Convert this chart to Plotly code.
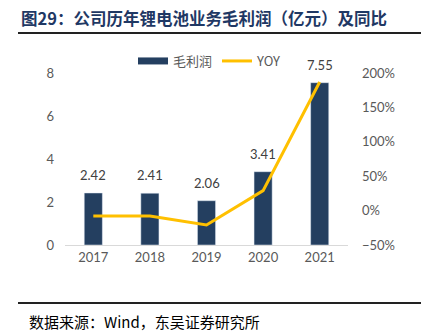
import plotly.graph_objects as go

years = ["2017", "2018", "2019", "2020", "2021"]
gross_profit = [2.42, 2.41, 2.06, 3.41, 7.55]
yoy = [-0.08, -0.08, -0.21, 0.29, 1.87]
bar_labels = ["2.42", "2.41", "2.06", "3.41", "7.55"]

title_text = "图29：公司历年锂电池业务毛利润（亿元）及同比"
source_text = "数据来源：Wind，东吴证券研究所"

W, H = 424, 336
ml, mr, mt, mb = 65, 76, 73, 91
NAVY = "#243F60"
GOLD = "#FFC000"

fig = go.Figure()
fig.add_trace(go.Bar(
    x=years, y=gross_profit, name="毛利润", showlegend=False,
    marker=dict(color=NAVY), width=0.32,
))
# legend proxy for bar (wide rectangle swatch)
fig.add_trace(go.Scatter(
    x=[years[0]], y=[None], name="毛利润", mode="lines",
    line=dict(color=NAVY, width=7),
))
fig.add_trace(go.Scatter(
    x=years, y=yoy, name="YOY", yaxis="y2", mode="lines",
    line=dict(color=GOLD, width=3),
))

# data labels above bars (category index positions)
for i, (v, lab) in enumerate(zip(gross_profit, bar_labels)):
    fig.add_annotation(x=i, y=v, xref="x", yref="y", text=lab, showarrow=False,
                       yanchor="bottom", yshift=8,
                       font=dict(family="Lato, Open Sans, sans-serif", size=13, color="#404040"))

def py(pix):
    return (H - mb - pix) / (H - mt - mb)

def px(pix):
    return (pix - ml) / (W - ml - mr)

fig.update_layout(
    width=W, height=H,
    margin=dict(l=ml, r=mr, t=mt, b=mb),
    paper_bgcolor="white", plot_bgcolor="white",
    showlegend=True,
    legend=dict(orientation="h", x=px(133), xanchor="left", y=py(61), yanchor="middle",
                font=dict(family="Noto Sans CJK SC, Lato, sans-serif", size=13, color="#595959"),
                itemwidth=30, bgcolor="rgba(0,0,0,0)", tracegroupgap=0),
    xaxis=dict(type="category", categoryorder="array", categoryarray=years,
               range=[-0.5, len(years) - 0.5],
               showgrid=False, showline=True, linecolor="#D9D9D9", linewidth=1,
               ticks="", tickfont=dict(family="Lato, Open Sans, sans-serif", size=13, color="#595959")),
    yaxis=dict(range=[0, 8], dtick=2, showgrid=False, zeroline=False, showline=False,
               tickfont=dict(family="Lato, Open Sans, sans-serif", size=13, color="#595959"),
               ticklabelstandoff=10),
    yaxis2=dict(range=[-0.5, 2.0], dtick=0.5, tickformat=".0%", overlaying="y", side="right",
                showgrid=False, zeroline=False, showline=False,
                tickfont=dict(family="Lato, Open Sans, sans-serif", size=13, color="#595959"),
                ticklabelstandoff=13),
    bargap=0.5,
)

fig.add_annotation(xref="paper", yref="paper", x=px(19), y=py(18), xanchor="left", yanchor="middle",
                   text="<b>" + title_text + "</b>", showarrow=False,
                   font=dict(family="Noto Sans CJK SC, sans-serif", size=16.5, color="#1F3864"))
fig.add_annotation(xref="paper", yref="paper", x=px(27), y=py(321), xanchor="left", yanchor="middle",
                   text=source_text, showarrow=False,
                   font=dict(family="Noto Sans CJK SC, Liberation Serif, serif", size=15, color="#000000"))
fig.add_shape(type="line", xref="paper", yref="paper", x0=px(18), x1=px(421), y0=py(33), y1=py(33),
              line=dict(color="#222222", width=2))
fig.add_shape(type="line", xref="paper", yref="paper", x0=px(18), x1=px(421), y0=py(303), y1=py(303),
              line=dict(color="#222222", width=2))

fig.write_html("out.html")
